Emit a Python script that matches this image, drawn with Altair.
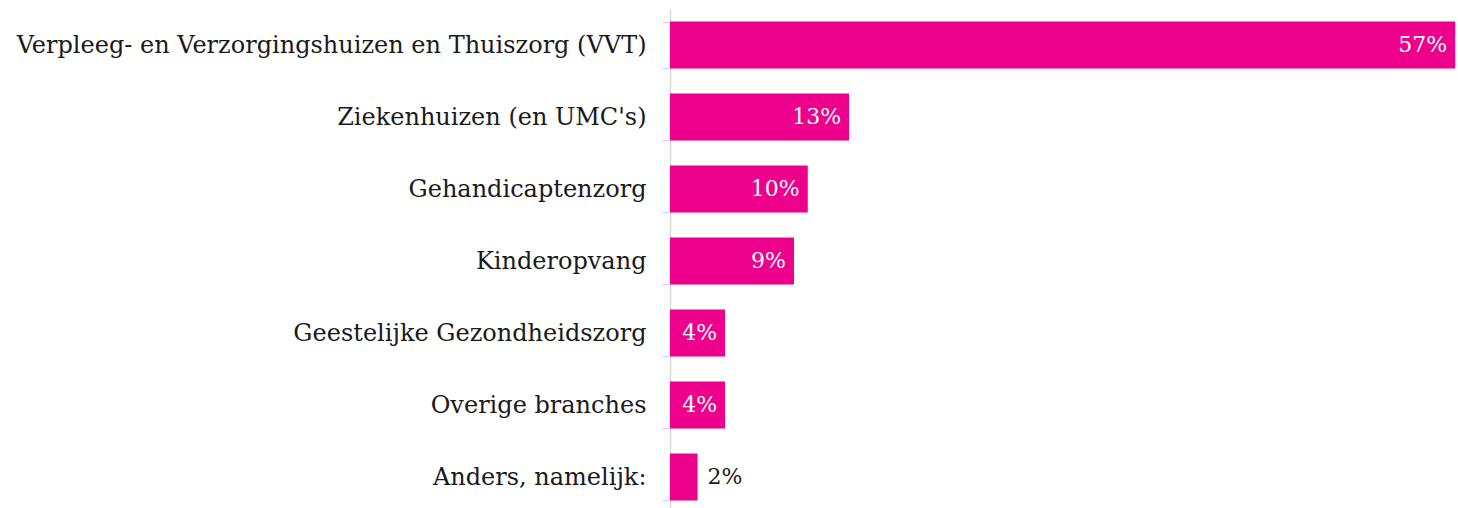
import altair as alt
import pandas as pd

categories = [
    "Verpleeg- en Verzorgingshuizen en Thuiszorg (VVT)",
    "Ziekenhuizen (en UMC's)",
    "Gehandicaptenzorg",
    "Kinderopvang",
    "Geestelijke Gezondheidszorg",
    "Overige branches",
    "Anders, namelijk:",
]
values = [57, 13, 10, 9, 4, 4, 2]

df = pd.DataFrame({"cat": categories, "val": values})
df["lbl"] = df["val"].astype(str) + "%"

FONT = "DejaVu Serif"
PINK = "#EC008C"

y_enc = alt.Y(
    "cat:N",
    sort=categories,
    title=None,
    scale=alt.Scale(paddingInner=0.35, paddingOuter=0.175, range=[0, 504]),
    axis=alt.Axis(
        grid=False,
        domainColor="#d9d9d9",
        domainWidth=1.5,
        tickColor="#d9d9d9",
        tickWidth=1.5,
        tickSize=8,
        tickBand="extent",
        labelPadding=16,
        labelFont=FONT,
        labelFontSize=24,
        labelColor="#1a1a1a",
        labelLimit=700,
    ),
)
x_enc = alt.X("val:Q", title=None, scale=alt.Scale(domain=[0, 57.2], nice=False), axis=None)

base = alt.Chart(df)
bars = base.mark_bar(color=PINK).encode(x=x_enc, y=y_enc)
inside = base.transform_filter("datum.val >= 4").mark_text(
    align="right", baseline="middle", dx=-8, font=FONT, fontSize=22, color="white"
).encode(x=x_enc, y=y_enc, text="lbl:N")
outside = base.transform_filter("datum.val < 4").mark_text(
    align="left", baseline="middle", dx=10, font=FONT, fontSize=22, color="#1a1a1a"
).encode(x=x_enc, y=y_enc, text="lbl:N")

chart = (
    alt.layer(bars, inside, outside)
    .properties(
        width=788,
        height=499,
        background="white",
        autosize=alt.AutoSizeParams(type="none"),
        padding={"left": 670, "top": 9, "right": 0, "bottom": 0},
    )
    .configure_view(strokeWidth=0)
)

chart.save("out.html", embed_options={"renderer": "svg", "actions": False})
